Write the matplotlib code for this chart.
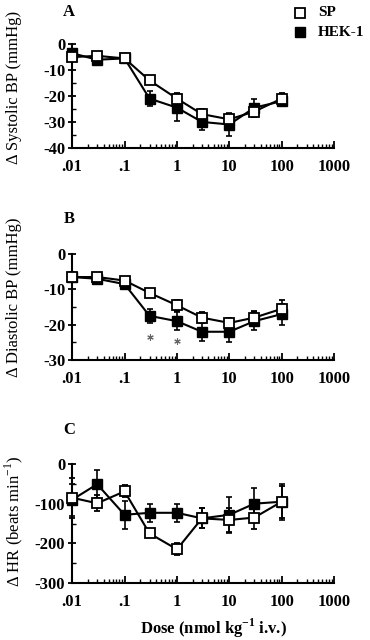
import matplotlib
matplotlib.use("Agg")
import matplotlib.pyplot as plt
from matplotlib.ticker import FixedLocator, LogLocator, NullFormatter, MultipleLocator

plt.rcParams['font.family'] = ['Liberation Serif', 'DejaVu Serif']
plt.rcParams['axes.unicode_minus'] = False
plt.rcParams['mathtext.fontset'] = 'custom'
plt.rcParams['mathtext.rm'] = 'Liberation Serif'
plt.rcParams['mathtext.bf'] = 'Liberation Serif:bold'

doses = [0.01, 0.03, 0.1, 0.3, 1, 3, 10, 30, 100]
x_ticks = [0.01, 0.1, 1, 10, 100, 1000]
x_ticklabels = ['.01', '.1', '1', '10', '100', '1000']

sys_sp = [-5, -4.5, -5.5, -14, -21, -27, -29, -26, -21]
sys_sp_err = [1.5, 1, 1, 1, 2, 2, 2, 2, 2]
sys_hek = [-3.5, -6, -5.5, -21, -24.5, -30, -31, -24.5, -22]
sys_hek_err = [1.5, 1, 1, 3, 5, 3, 4.5, 3.5, 2]

dia_sp = [-6.5, -6.5, -7.5, -11, -14.5, -18, -19.5, -18, -15.5]
dia_sp_err = [1, 1, 1, 1, 1.5, 1.5, 1.5, 2, 2.5]
dia_hek = [-6.5, -7, -8.5, -17.5, -19, -22, -22, -19, -17]
dia_hek_err = [1.5, 1, 1, 2, 2.5, 2.5, 3, 2.5, 3]
star_doses = [0.3, 1]
star_y = [-23.5, -24.5]

hr_sp = [-85, -99, -69, -175, -215, -137, -141, -135, -95]
hr_sp_err = [50, 20, 15, 10, 15, 25, 30, 30, 40]
hr_hek = [-90, -51, -128, -123, -123, -137, -128, -100, -95]
hr_hek_err = [40, 35, 35, 22, 22, 25, 45, 40, 45]

fig = plt.figure(figsize=(3.7, 6.4), dpi=100)

panels = [
    dict(rect=[0.195, 0.769, 0.708, 0.162], sp=sys_sp, spe=sys_sp_err, hek=sys_hek, heke=sys_hek_err,
         ylim=(-40, 0), ymaj=10, ymin=5, ylabel='\u0394 Systolic BP (mmHg)', letter='A', ly=12,
         lx=-0.19, lyc=0.585),
    dict(rect=[0.195, 0.4375, 0.708, 0.1655], sp=dia_sp, spe=dia_sp_err, hek=dia_hek, heke=dia_hek_err,
         ylim=(-30, 0), ymaj=10, ymin=5, ylabel='\u0394 Diastolic BP (mmHg)', letter='B', ly=219,
         lx=-0.19, lyc=0.59),
    dict(rect=[0.195, 0.089, 0.708, 0.186], sp=hr_sp, spe=hr_sp_err, hek=hr_hek, heke=hr_hek_err,
         ylim=(-300, 0), ymaj=100, ymin=50, ylabel='\u0394 HR (beats min$^{-1}$)', letter='C', ly=430,
         lx=-0.18, lyc=0.52),
]

axes = []
for p in panels:
    ax = fig.add_axes(p['rect'])
    axes.append(ax)
    ax.set_xscale('log')
    ax.set_xlim(0.01, 1000)
    ax.set_ylim(*p['ylim'])
    ax.errorbar(doses, p['hek'], yerr=p['heke'], color='black', marker='s', markersize=7.5,
                markerfacecolor='black', markeredgecolor='black', linewidth=1.5,
                elinewidth=1.2, capsize=2.5, capthick=1.2, zorder=3, clip_on=False)
    ax.errorbar(doses, p['sp'], yerr=p['spe'], color='black', marker='s', markersize=7.5,
                markerfacecolor='white', markeredgecolor='black', markeredgewidth=1.3,
                linewidth=1.5, elinewidth=1.2, capsize=2.5, capthick=1.2, zorder=4, clip_on=False)
    for s in ['top', 'right']:
        ax.spines[s].set_visible(False)
    for s in ['left', 'bottom']:
        ax.spines[s].set_linewidth(1.5)
    ax.xaxis.set_major_locator(FixedLocator(x_ticks))
    ax.set_xticklabels(x_ticklabels)
    ax.xaxis.set_minor_locator(LogLocator(base=10, subs=range(2, 10), numticks=20))
    ax.xaxis.set_minor_formatter(NullFormatter())
    ax.yaxis.set_major_locator(MultipleLocator(p['ymaj']))
    ax.yaxis.set_minor_locator(MultipleLocator(p['ymin']))
    ax.tick_params(axis='x', which='major', direction='in', length=5, width=1.3, pad=8)
    ax.tick_params(axis='x', which='minor', direction='in', length=3, width=1)
    ax.tick_params(axis='y', which='major', direction='inout', length=6, width=1.3, pad=2)
    ax.tick_params(axis='y', which='minor', direction='in', length=3, width=1)
    for lab in ax.get_xticklabels() + ax.get_yticklabels():
        lab.set_fontsize(12)
        lab.set_fontweight('bold')
    ax.set_ylabel(p['ylabel'], fontsize=12)
    ax.yaxis.set_label_coords(p['lx'], p['lyc'])
    fig.text(69 / 370, 1 - p['ly'] / 640, p['letter'], fontsize=12, fontweight='bold',
             ha='center', va='center')

axes[1].scatter(star_doses, star_y, marker=(6, 2, 0), s=16, color='#666666', linewidths=0.8, zorder=5)
axes[2].set_xlabel('Dose (nmol kg$^{\\mathbf{-1}}$ i.v.)', fontsize=12, fontweight='bold')
axes[2].xaxis.set_label_coords(0.54, -0.28)

# legend
fig.lines.append(plt.Line2D([300 / 370], [1 - 13 / 640], marker='s', markersize=7, markerfacecolor='white',
                            markeredgecolor='black', markeredgewidth=1.3, linestyle='none',
                            transform=fig.transFigure))
fig.lines.append(plt.Line2D([300 / 370], [1 - 32 / 640], marker='s', markersize=7, markerfacecolor='black',
                            markeredgecolor='black', linestyle='none', transform=fig.transFigure))
fig.text(318 / 370, 1 - 13 / 640, 'SP', fontsize=11, fontweight='bold', va='center', ha='left')
fig.text(318 / 370, 1 - 32 / 640, 'HEK-1', fontsize=11, fontweight='bold', va='center', ha='left')

fig.savefig('out.png', dpi=100)
